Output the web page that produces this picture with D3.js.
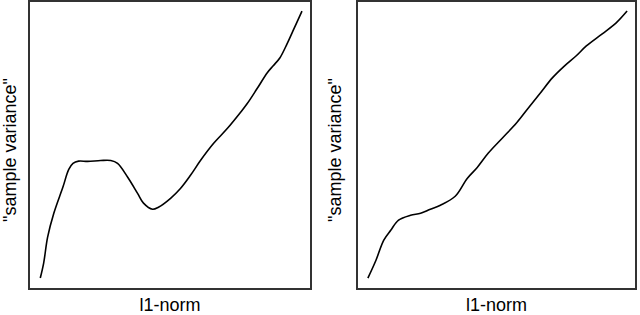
<!DOCTYPE html>
<html>
<head>
<meta charset="utf-8">
<script src="https://cdn.jsdelivr.net/npm/d3@7"></script>
<style>
  body { margin: 0; background: #fff; }
  text { font-family: Arial, "Liberation Sans", sans-serif; fill: #000; }
</style>
</head>
<body>
<svg class="chart"></svg>
<script>
// Data (arbitrary units, 0-100 on both axes)
var leftNorm = [4.0, 5.2, 6.6, 8.8, 12.0, 14.1, 15.6, 17.6, 20.8, 25.4, 29.0, 31.4, 35.0, 38.5, 40.6,
  43.8, 45.9, 50.2, 53.7, 57.2, 60.8, 65.4, 70.3, 74.9, 77.4, 80.9, 84.5, 86.6, 89.0, 91.5, 93.6, 96.8];
var leftVariance = [3.8, 9.0, 18.0, 26.3, 35.3, 41.5, 43.6, 44.4, 44.3, 44.6, 44.6, 43.6, 38.8, 33.2, 29.8,
  27.7, 28.4, 31.5, 34.9, 39.4, 44.6, 50.5, 55.7, 61.2, 64.4, 69.6, 75.1, 77.5, 80.3, 85.1, 89.6, 96.5];

var rightNorm = [3.9, 6.8, 9.6, 12.1, 14.9, 19.2, 22.8, 26.3, 29.9, 35.2, 39.5, 43.1, 47.0, 52.3,
  57.3, 61.2, 65.5, 70.1, 74.4, 78.6, 82.2, 87.9, 92.9, 96.8];
var rightVariance = [3.8, 10.0, 17.0, 20.4, 23.9, 25.6, 26.3, 27.7, 29.1, 32.2, 38.4, 42.2, 47.1, 52.6,
  57.8, 62.6, 67.8, 73.4, 77.5, 81.0, 84.4, 88.6, 92.4, 96.5];

var xLabel = "l1-norm",
  yLabel = "\"sample variance\"";

// Layout
var width = 640, height = 315;
var chart = d3.select(".chart")
  .attr("width", width)
  .attr("height", height);

var panels = [
  {left: 29, right: 311, top: 1, bottom: 289, labelX: 16,
    norm: leftNorm, variance: leftVariance},
  {left: 357, right: 636, top: 1, bottom: 289, labelX: 341,
    norm: rightNorm, variance: rightVariance}
];

panels.forEach(function(p) {
  var x = d3.scaleLinear().domain([0, 100]).range([p.left, p.right]);
  var y = d3.scaleLinear().domain([0, 100]).range([p.bottom, p.top]);

  var data = p.norm.map(function(d, i) { return [d, p.variance[i]]; });

  var line = d3.line()
    .x(function(d) { return x(d[0]); })
    .y(function(d) { return y(d[1]); })
    .curve(d3.curveCatmullRom.alpha(0.5));

  chart.append("path")
    .datum(data)
    .attr("d", line)
    .attr("fill", "none")
    .attr("stroke", "#000")
    .attr("stroke-width", 1.6)
    .attr("stroke-linejoin", "round");

  // box around the plot
  chart.append("rect")
    .attr("x", p.left)
    .attr("y", p.top)
    .attr("width", p.right - p.left)
    .attr("height", p.bottom - p.top)
    .attr("fill", "none")
    .attr("stroke", "#333")
    .attr("stroke-width", 2);

  chart.append("text")
    .attr("x", (p.left + p.right) / 2)
    .attr("y", 311)
    .attr("text-anchor", "middle")
    .style("font-size", "18px")
    .text(xLabel);

  chart.append("text")
    .attr("transform", "translate(" + p.labelX + "," + 150 + ") rotate(-90)")
    .attr("text-anchor", "middle")
    .style("font-size", "18px")
    .text(yLabel);
});
</script>
</body>
</html>
